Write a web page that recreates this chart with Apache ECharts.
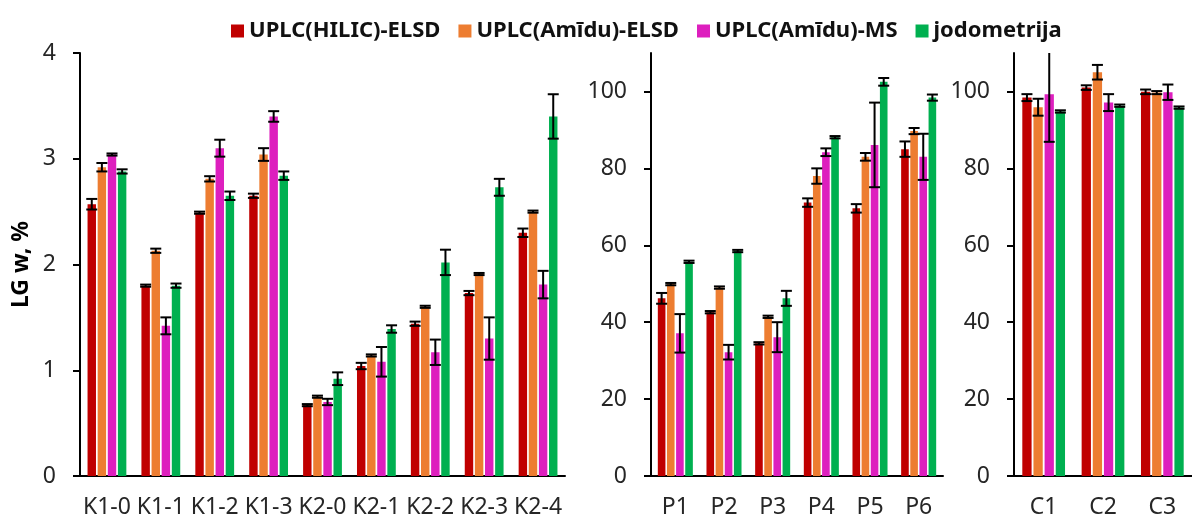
<!DOCTYPE html>
<html>
<head>
<meta charset="utf-8">
<script src="https://cdn.jsdelivr.net/npm/echarts@6/dist/echarts.min.js"></script>
<style>
  html, body { margin: 0; padding: 0; background: #fff; }
  #chart { width: 1192px; height: 521px; }
</style>
</head>
<body>
<div id="chart"></div>
<script>
// Method names (legend order)
const methodNames = ['UPLC(HILIC)-ELSD', 'UPLC(Amīdu)-ELSD', 'UPLC(Amīdu)-MS', 'jodometrija'];
const methodColors = ['#C00000', '#ED7D31', '#DD1FBE', '#00B050'];

// Panel K: LG w, %
const kCategories = ['K1-0', 'K1-1', 'K1-2', 'K1-3', 'K2-0', 'K2-1', 'K2-2', 'K2-3', 'K2-4'];
const kTicks = [0, 1, 2, 3, 4];
const kHilic        = [2.57, 1.80, 2.49, 2.65, 0.67, 1.04, 1.44, 1.73, 2.30];
const kHilicErr     = [0.05, 0.01, 0.01, 0.02, 0.01, 0.03, 0.02, 0.02, 0.04];
const kAmiduElsd    = [2.92, 2.13, 2.81, 3.04, 0.75, 1.14, 1.60, 1.91, 2.50];
const kAmiduElsdErr = [0.04, 0.02, 0.025, 0.06, 0.01, 0.01, 0.01, 0.01, 0.01];
const kAmiduMs      = [3.04, 1.42, 3.10, 3.40, 0.70, 1.08, 1.17, 1.30, 1.81];
const kAmiduMsErr   = [0.01, 0.08, 0.08, 0.05, 0.03, 0.14, 0.12, 0.20, 0.13];
const kJodo         = [2.88, 1.80, 2.65, 2.84, 0.92, 1.39, 2.02, 2.73, 3.40];
const kJodoErr      = [0.02, 0.02, 0.04, 0.04, 0.06, 0.035, 0.12, 0.08, 0.21];

// Panel P
const pCategories = ['P1', 'P2', 'P3', 'P4', 'P5', 'P6'];
const pTicks = [0, 20, 40, 60, 80, 100];
const pHilic        = [46.2, 42.6, 34.5, 71.1, 69.6, 85.0];
const pHilicErr     = [1.4, 0.3, 0.3, 1.1, 1.1, 2.0];
const pAmiduElsd    = [49.9, 49.0, 41.4, 78.0, 83.0, 89.7];
const pAmiduElsdErr = [0.3, 0.3, 0.3, 2.0, 1.0, 0.8];
const pAmiduMs      = [37.1, 32.2, 36.1, 84.2, 86.1, 83.0];
const pAmiduMsErr   = [5.0, 1.9, 3.9, 1.0, 11.0, 6.0];
const pJodo         = [55.7, 58.5, 46.2, 88.1, 102.5, 98.4];
const pJodoErr      = [0.3, 0.3, 1.95, 0.3, 1.0, 0.8];

// Panel C
const cCategories = ['C1', 'C2', 'C3'];
const cTicks = [0, 20, 40, 60, 80, 100];
const cHilic        = [98.4, 101.0, 99.9];
const cHilicErr     = [0.9, 0.6, 0.6];
const cAmiduElsd    = [95.9, 105.0, 99.7];
const cAmiduElsdErr = [2.2, 1.9, 0.4];
const cAmiduMs      = [99.3, 97.1, 99.8];
const cAmiduMsErr   = [12.4, 2.2, 2.0];
const cJodo         = [94.8, 96.3, 95.8];
const cJodoErr      = [0.3, 0.3, 0.3];

const FONT = 'Noto Sans';
const CAT_GAP = 0.28;   // barCategoryGap
const BAR_GAP = 0.20;   // barGap

const panels = [
  { cats: kCategories, ticks: kTicks, max: 4,
    values: [kHilic, kAmiduElsd, kAmiduMs, kJodo],
    errors: [kHilicErr, kAmiduElsdErr, kAmiduMsErr, kJodoErr],
    grid: { left: 80, top: 53, width: 485, height: 423 }, name: 'LG w, %' },
  { cats: pCategories, ticks: pTicks, max: 110,
    values: [pHilic, pAmiduElsd, pAmiduMs, pJodo],
    errors: [pHilicErr, pAmiduElsdErr, pAmiduMsErr, pJodoErr],
    grid: { left: 651, top: 53, width: 292, height: 423 } },
  { cats: cCategories, ticks: cTicks, max: 110,
    values: [cHilic, cAmiduElsd, cAmiduMs, cJodo],
    errors: [cHilicErr, cAmiduElsdErr, cAmiduMsErr, cJodoErr],
    grid: { left: 1014, top: 53, width: 189, height: 423 } }
];

// Error bar drawn at the centre of the k-th bar inside a category group
function errorBarRenderer(k, yMax) {
  return function (params, api) {
    const cat = api.value(0), val = api.value(1), err = api.value(2);
    const band = api.size([1, 0])[0];
    const groupW = band * (1 - CAT_GAP);
    const barW = groupW / (4 + 3 * BAR_GAP);
    const x = api.coord([cat, 0])[0] - groupW / 2 + barW / 2 + k * barW * (1 + BAR_GAP);
    const hiVal = Math.min(val + err, yMax);
    const yHi = api.coord([cat, hiVal])[1];
    const yLo = api.coord([cat, val - err])[1];
    const cap = 5.5;
    const style = { stroke: '#000', lineWidth: 2 };
    const children = [
      { type: 'line', shape: { x1: x, y1: yHi, x2: x, y2: yLo }, style },
      { type: 'line', shape: { x1: x - cap, y1: yLo, x2: x + cap, y2: yLo }, style }
    ];
    if (val + err <= yMax) {
      children.push({ type: 'line', shape: { x1: x - cap, y1: yHi, x2: x + cap, y2: yHi }, style });
    }
    return { type: 'group', children };
  };
}

const grids = [], xAxes = [], yAxes = [], series = [];
panels.forEach((p, pi) => {
  grids.push(Object.assign({ containLabel: false }, p.grid));
  xAxes.push({
    type: 'category', gridIndex: pi, data: p.cats,
    axisLine: { lineStyle: { color: '#000', width: 2 } },
    axisTick: { show: false },
    axisLabel: { color: '#262626', fontFamily: FONT, fontSize: 23, margin: 20, interval: 0 }
  });
  yAxes.push({
    type: 'value', gridIndex: pi, min: 0, max: p.max,
    splitLine: { show: false },
    axisLine: { show: true, lineStyle: { color: '#000', width: 2 } },
    axisTick: { show: true, length: 7, customValues: p.ticks, lineStyle: { color: '#000', width: 2 } },
    axisLabel: { customValues: p.ticks, color: '#262626', fontFamily: FONT, fontSize: 23, margin: 24 },
    name: p.name || '',
    nameLocation: 'middle',
    nameGap: 47,
    nameTextStyle: { color: '#000', fontFamily: FONT, fontSize: 23, fontWeight: 'bold' }
  });
  p.values.forEach((vals, k) => {
    series.push({
      type: 'bar', name: methodNames[k], xAxisIndex: pi, yAxisIndex: pi,
      data: vals,
      barCategoryGap: (CAT_GAP * 100) + '%', barGap: (BAR_GAP * 100) + '%',
      itemStyle: { color: methodColors[k] },
      z: 2
    });
  });
  p.values.forEach((vals, k) => {
    series.push({
      type: 'custom', xAxisIndex: pi, yAxisIndex: pi,
      renderItem: errorBarRenderer(k, p.max),
      encode: { x: 0, y: 1 },
      data: vals.map((v, i) => [i, v, p.errors[k][i]]),
      z: 5, silent: true
    });
  });
});

const chart = echarts.init(document.getElementById('chart'), null, { renderer: 'canvas' });
chart.setOption({
  animation: false,
  backgroundColor: '#fff',
  legend: {
    data: methodNames,
    left: 226, top: 15,
    itemWidth: 13, itemHeight: 13, itemGap: 18,
    icon: 'rect',
    textStyle: { color: '#111', fontFamily: FONT, fontSize: 22, fontWeight: 'bold' }
  },
  grid: grids,
  xAxis: xAxes,
  yAxis: yAxes,
  series: series
});
</script>
</body>
</html>
